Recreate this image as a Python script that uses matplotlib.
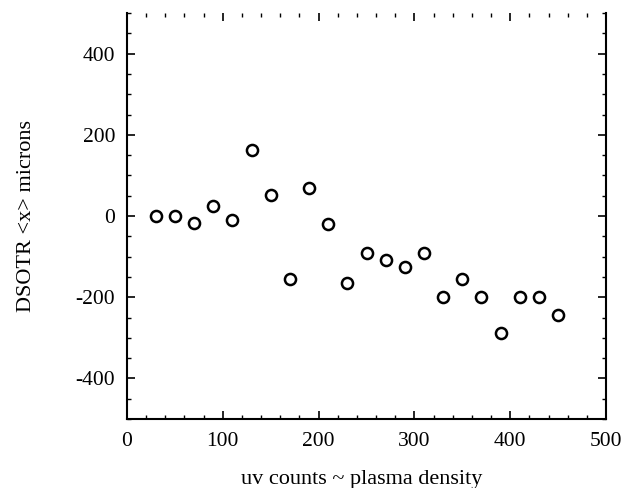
import matplotlib
matplotlib.use("Agg")
import matplotlib.pyplot as plt
from matplotlib.ticker import MultipleLocator

# uv counts vs DSOTR <x>
uv_counts = [30, 50, 70, 90, 110, 130, 150, 170, 190, 210, 230,
             250, 270, 290, 310, 330, 350, 370, 390, 410, 430, 450]
x_microns = [0, 0, -18, 25, -10, 162, 52, -155, 70, -20, -165,
             -92, -108, -125, -92, -200, -155, -200, -288, -200, -200, -243]

plt.rcParams["font.family"] = ["Liberation Serif", "DejaVu Serif"]
plt.rcParams["axes.unicode_minus"] = False

fig = plt.figure(figsize=(6.32, 4.88), dpi=100)
ax = fig.add_axes([127 / 632, 1 - 419 / 488, (606 - 127) / 632, (419 - 13) / 488])

# open circle markers, no line
ax.plot(uv_counts, x_microns, linestyle="none", marker="o",
        markersize=8, markerfacecolor="white", markeredgecolor="black",
        markeredgewidth=1.8)

ax.set_xlim(0, 500)
ax.set_ylim(-500, 500)
ax.xaxis.set_major_locator(MultipleLocator(100))
ax.xaxis.set_minor_locator(MultipleLocator(20))
ax.yaxis.set_major_locator(MultipleLocator(200))
ax.yaxis.set_minor_locator(MultipleLocator(50))
ax.tick_params(which="both", direction="in", top=True, right=True,
               labelsize=15.5, color="black")
ax.tick_params(which="major", length=6, width=1.2)
ax.tick_params(axis="x", which="major", pad=9)
ax.tick_params(axis="y", which="major", pad=8.5)
ax.tick_params(which="minor", length=3, width=1.0)
ax.spines["top"].set_visible(False)
for s in ["left", "right", "bottom"]:
    ax.spines[s].set_linewidth(1.5)

ax.set_xlabel("uv counts ~ plasma density", fontsize=16, va="center")
ax.set_ylabel("DSOTR <x> microns", fontsize=16, va="center")
ax.xaxis.set_label_coords(0.49, -0.15)
ax.yaxis.set_label_coords(-0.21, 0.5)

fig.savefig("out.png", dpi=100)
